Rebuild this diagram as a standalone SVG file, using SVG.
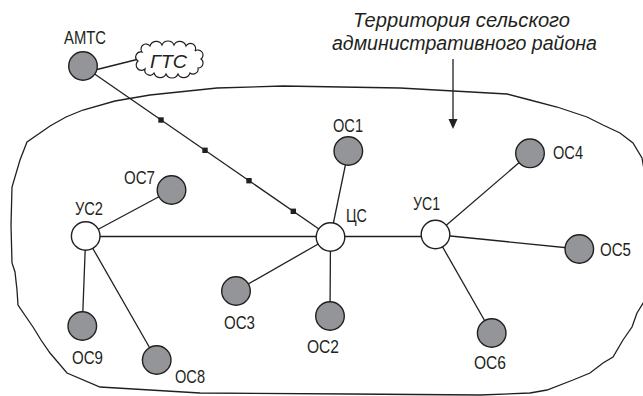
<svg xmlns="http://www.w3.org/2000/svg" width="643" height="396" viewBox="0 0 643 396">
<style>
.edge{stroke:#231f20;stroke-width:1.3;fill:none}
.os{fill:#939598;stroke:#231f20;stroke-width:1.4}
.us{fill:#ffffff;stroke:#231f20;stroke-width:1.4}
.lbl{font-family:"Liberation Sans",Arial,sans-serif;font-size:19px;fill:#231f20}
.it{font-family:"Liberation Sans",Arial,sans-serif;font-style:italic;fill:#231f20}
.sq{fill:#231f20}
</style>
<rect width="643" height="396" fill="#ffffff"/>
<g id="territory">
<path class="edge" d="M50,126 L66,117 L83,110 L115,101 L150,95 L217,88 L283,86 L400,88 L507,94 L530,100 L557,107 L587,117 L603,125 L620,133 L633,143 L642,158 L645,175 L648,240 L645,300 L637,313 L632,327 L623,340 L613,357 L603,363 L590,373 L573,380 L547,390 L530,393 L480,395 L350,394 L200,393 L100,387 L67,373 L50,353 L41,340 L33,327 L18,305 L17,290 L15,272 L12,263 L11,225 L12,187 L20,160 L27,142 L40,133 Z"/>
<text class="it" font-size="20" x="353" y="27" textLength="217" lengthAdjust="spacingAndGlyphs">Территория сельского</text>
<text class="it" font-size="20" x="332" y="50" textLength="265" lengthAdjust="spacingAndGlyphs">административного района</text>
<line class="edge" x1="453" y1="59" x2="453" y2="121"/>
<polygon points="448.5,119 457.5,119 453,129" fill="#231f20"/>
</g>
<g id="connectors">
<line class="edge" x1="97" y1="69.5" x2="137" y2="59.5"/>
<line class="edge" x1="83" y1="66" x2="330.5" y2="237"/>
<rect class="sq" x="158.3" y="117.3" width="5.4" height="5.4"/>
<rect class="sq" x="202.3" y="147.6" width="5.4" height="5.4"/>
<rect class="sq" x="246.3" y="178" width="5.4" height="5.4"/>
<rect class="sq" x="290.6" y="208.6" width="5.4" height="5.4"/>
<line class="edge" x1="85.7" y1="236.5" x2="330.5" y2="236.5"/>
<line class="edge" x1="330.5" y1="236.5" x2="435.5" y2="236.5"/>
<line class="edge" x1="330.5" y1="237" x2="348.3" y2="151"/>
<line class="edge" x1="330.5" y1="237" x2="330" y2="316"/>
<line class="edge" x1="330.5" y1="237" x2="236" y2="291"/>
<line class="edge" x1="85.7" y1="236" x2="171.5" y2="190"/>
<line class="edge" x1="85.7" y1="236" x2="82.3" y2="326"/>
<line class="edge" x1="85.7" y1="236" x2="156.7" y2="360"/>
<line class="edge" x1="435.5" y1="234.5" x2="530" y2="153.3"/>
<line class="edge" x1="435.5" y1="234.5" x2="579.3" y2="249"/>
<line class="edge" x1="435.5" y1="234.5" x2="491.7" y2="333"/>
</g>
<g id="GTS">
<path fill="#ffffff" stroke="#231f20" stroke-width="1.2" d="M142,52 A5,5 0 0 1 150,46 A6.5,6.5 0 0 1 162,45 A6.5,6.5 0 0 1 174,45 A6.5,6.5 0 0 1 186,46 A5,5 0 0 1 195,51 A5,5 0 0 1 201,59 A5,5 0 0 1 198,68 A5,5 0 0 1 190,73 A6.5,6.5 0 0 1 178,74 A6.5,6.5 0 0 1 166,74 A6.5,6.5 0 0 1 154,73 A5,5 0 0 1 145,69 A5,5 0 0 1 138,61 A5,5 0 0 1 142,52 Z"/>
<text class="it" font-size="19" x="150" y="67.5" textLength="37" lengthAdjust="spacingAndGlyphs">ГТС</text>
</g>
<g id="AMTS"><circle class="os" cx="83" cy="66" r="14.3"/><text class="lbl" font-size="16" x="64" y="43.5" textLength="42" lengthAdjust="spacingAndGlyphs">АМТС</text></g>
<g id="CS"><circle class="us" cx="330.5" cy="237" r="14.3"/><text class="lbl" x="346" y="221.5" textLength="21" lengthAdjust="spacingAndGlyphs">ЦС</text></g>
<g id="US1"><circle class="us" cx="435.5" cy="234.5" r="14.3"/><text class="lbl" x="413" y="210" textLength="27" lengthAdjust="spacingAndGlyphs">УС1</text></g>
<g id="US2"><circle class="us" cx="85.7" cy="236" r="14.3"/><text class="lbl" x="75" y="215" textLength="28" lengthAdjust="spacingAndGlyphs">УС2</text></g>
<g id="OS1"><circle class="os" cx="348.3" cy="151" r="14.3"/><text class="lbl" x="333" y="132" textLength="30" lengthAdjust="spacingAndGlyphs">ОС1</text></g>
<g id="OS2"><circle class="os" cx="330" cy="316" r="14.3"/><text class="lbl" x="307" y="353" textLength="32" lengthAdjust="spacingAndGlyphs">ОС2</text></g>
<g id="OS3"><circle class="os" cx="236" cy="291" r="14.3"/><text class="lbl" x="224" y="329" textLength="31" lengthAdjust="spacingAndGlyphs">ОС3</text></g>
<g id="OS4"><circle class="os" cx="530" cy="153.3" r="14.3"/><text class="lbl" x="553" y="159" textLength="30" lengthAdjust="spacingAndGlyphs">ОС4</text></g>
<g id="OS5"><circle class="os" cx="579.3" cy="249" r="14.3"/><text class="lbl" x="600" y="256" textLength="31" lengthAdjust="spacingAndGlyphs">ОС5</text></g>
<g id="OS6"><circle class="os" cx="491.7" cy="333" r="14.3"/><text class="lbl" x="474" y="369" textLength="32" lengthAdjust="spacingAndGlyphs">ОС6</text></g>
<g id="OS7"><circle class="os" cx="171.5" cy="190" r="14.3"/><text class="lbl" x="124" y="184" textLength="31" lengthAdjust="spacingAndGlyphs">ОС7</text></g>
<g id="OS8"><circle class="os" cx="156.7" cy="360" r="14.3"/><text class="lbl" x="175" y="383" textLength="30" lengthAdjust="spacingAndGlyphs">ОС8</text></g>
<g id="OS9"><circle class="os" cx="82.3" cy="326" r="14.3"/><text class="lbl" x="72" y="363.5" textLength="31" lengthAdjust="spacingAndGlyphs">ОС9</text></g>
</svg>
